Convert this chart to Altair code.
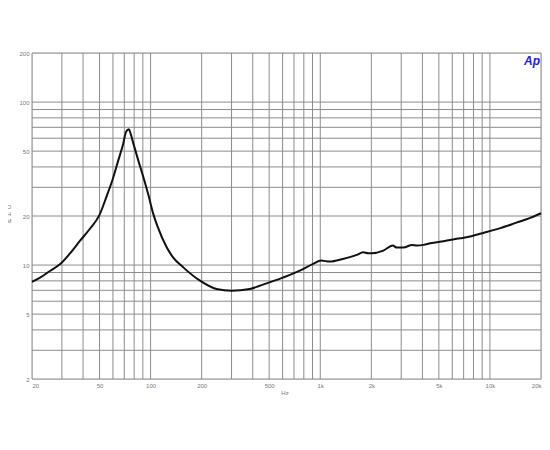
import altair as alt
import pandas as pd

# Impedance curve (Hz, Ohm)
freq = [20, 22.2, 25.5, 29.2, 33.5, 38.4, 43.9, 50, 55.1, 60, 64.5, 69, 71.6, 74.5,
        76.2, 79.2, 84.6, 90.6, 97, 103.7, 110, 124.4, 136, 155.8, 195.5, 245, 300,
        384, 440, 606, 758, 908, 1010, 1138, 1360, 1640, 1790, 1918, 2004, 2352,
        2674, 2826, 3092, 3470, 3716, 4068, 4452, 5336, 6685, 7280, 9134, 11400,
        14320, 17140, 20000]
ohm = [7.9, 8.35, 9.2, 10.1, 11.8, 14.1, 16.7, 20.3, 26.5, 34.0, 43.9, 55.6, 65.6, 68.1,
       64.1, 55.6, 43.9, 34.7, 27.0, 20.6, 17.2, 12.85, 11.1, 9.68, 8.02, 7.13, 6.96,
       7.13, 7.47, 8.40, 9.24, 10.16, 10.65, 10.5, 10.9, 11.54, 11.98, 11.8, 11.8, 12.26,
       13.17, 12.8, 12.8, 13.3, 13.17, 13.3, 13.6, 14.0, 14.6, 14.8, 15.75, 16.8,
       18.2, 19.4, 20.8]

x_grid = [20, 30, 40, 50, 60, 70, 80, 90, 100, 200, 300, 400, 500, 600, 700, 800, 900,
          1000, 2000, 3000, 4000, 5000, 6000, 7000, 8000, 9000, 10000, 20000]
y_grid = [2, 3, 4, 5, 6, 7, 8, 9, 10, 20, 30, 40, 50, 60, 70, 80, 90, 100, 200]

x_label_values = [20, 50, 100, 200, 500, 1000, 2000, 5000, 10000, 20000]
x_label_text = ["20", "50", "100", "200", "500", "1k", "2k", "5k", "10k", "20k"]
y_label_values = [2, 5, 10, 20, 50, 100, 200]

x_domain = [20, 20000]
y_domain = [2, 200]

FONT = "Liberation Sans"
LABEL_COLOR = "#777777"
GRID_COLOR = "#8c8c8c"

expr = "''"
for v, t in zip(reversed(x_label_values), reversed(x_label_text)):
    expr = f"datum.value == {v} ? '{t}' : ({expr})"

xscale = alt.Scale(type="log", domain=x_domain, nice=False)
yscale = alt.Scale(type="log", domain=y_domain, nice=False)

xaxis = alt.Axis(values=x_label_values, labelExpr=expr, title=None,
                 ticks=False, domain=False, grid=False, labelFlush=True,
                 labelFont=FONT, labelFontSize=6, labelColor=LABEL_COLOR,
                 labelPadding=3, labelOverlap=False)
yaxis = alt.Axis(values=y_label_values, format="d", title=None,
                 ticks=False, domain=False, grid=False,
                 labelFont=FONT, labelFontSize=6, labelColor=LABEL_COLOR,
                 labelPadding=3, labelOverlap=False)

curve_df = pd.DataFrame({"f": freq, "z": ohm})

grid_x = alt.Chart(pd.DataFrame({"f": x_grid})).mark_rule(
    color=GRID_COLOR, strokeWidth=1
).encode(x=alt.X("f:Q", scale=xscale, axis=xaxis))

grid_y = alt.Chart(pd.DataFrame({"z": y_grid})).mark_rule(
    color=GRID_COLOR, strokeWidth=1
).encode(y=alt.Y("z:Q", scale=yscale, axis=yaxis))

line = alt.Chart(curve_df).mark_line(
    color="#111111", strokeWidth=2, interpolate="monotone"
).encode(
    x=alt.X("f:Q", scale=xscale, axis=xaxis),
    y=alt.Y("z:Q", scale=yscale, axis=yaxis),
)

hz = alt.Chart(pd.DataFrame({"t": ["Hz"]})).mark_text(
    font=FONT, fontSize=6, color=LABEL_COLOR
).encode(text="t:N", x=alt.value(253), y=alt.value(340))

ohm_lbl = alt.Chart(pd.DataFrame({"t": ["OHM"]})).mark_text(
    font=FONT, fontSize=6, color=LABEL_COLOR, lineHeight=7, baseline="top"
).encode(text=alt.value(["O", "H", "M"]), x=alt.value(-23), y=alt.value(151))

ap = alt.Chart(pd.DataFrame({"t": ["Ap"]})).mark_text(
    font=FONT, fontSize=12, fontWeight="bold", fontStyle="italic",
    color="#2020d8", align="right"
).encode(text="t:N", x=alt.value(508), y=alt.value(8))

chart = alt.layer(grid_x, grid_y, line, hz, ohm_lbl, ap).properties(
    width=509, height=326,
    autosize=alt.AutoSizeParams(type="none"),
    padding={"left": 24, "top": 45, "right": 1, "bottom": 60},
).configure_view(stroke=GRID_COLOR, strokeWidth=1).configure(background="white")

chart.save("out.html", embed_options={"renderer": "svg", "actions": False})
